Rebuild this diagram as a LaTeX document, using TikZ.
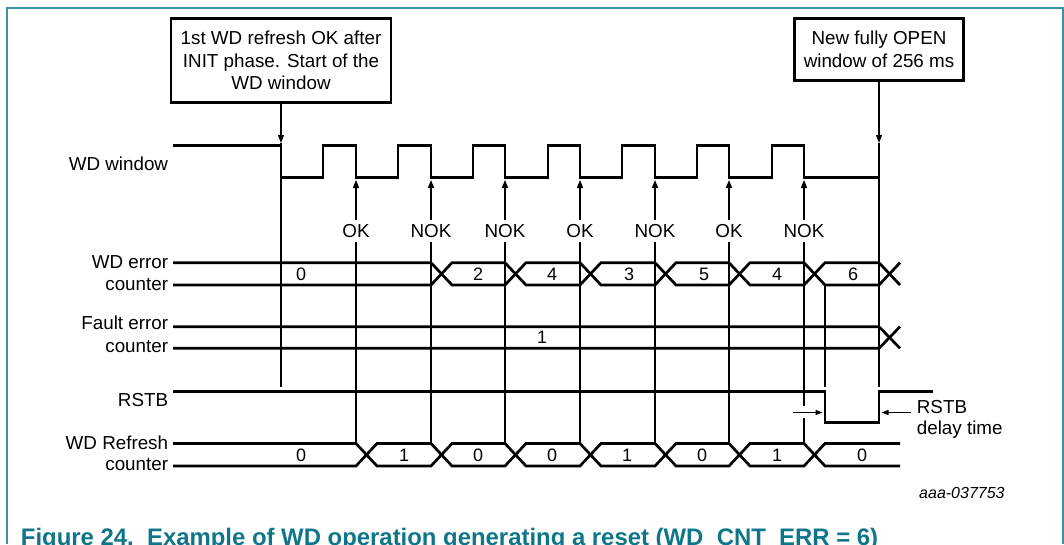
\documentclass[tikz,border=0pt]{standalone}
\usepackage{fontspec}
\setmainfont{Liberation Sans}
\usetikzlibrary{arrows.meta}
\definecolor{framecol}{RGB}{60,145,165}
\definecolor{capcol}{RGB}{15,118,138}
\begin{document}
\begin{tikzpicture}[x=1pt,y=-1pt,
  sig/.style={line width=2.7pt, line join=miter},
  thinline/.style={line width=1.2pt},
  uparrow/.style={thinline, -{Triangle[length=8pt,width=6pt]}},
  dlyarrow/.style={line width=1pt, -{Triangle[length=7pt,width=5pt]}},
  txt/.style={inner sep=0pt, font=\fontsize{18.8}{22.5}\selectfont},
  val/.style={inner sep=0pt, anchor=base, font=\fontsize{18}{22}\selectfont},
  siglbl/.style={txt, anchor=base east},
  okl/.style={inner sep=4pt, anchor=base, font=\fontsize{18.8}{22.5}\selectfont},
  notebox/.style={draw, line width=2.7pt, align=center, inner sep=0pt,
    font=\fontsize{18.8}{22.5}\selectfont}
]
\useasboundingbox (0,0) rectangle (1064,544);
% frame
\draw[framecol, line width=1.3pt] (7,544) -- (7,8) -- (1063,8) -- (1063,544);

% note boxes
\node[notebox, minimum width=220pt, minimum height=83.7pt] (box1) at (281,60.5)
  {1st WD refresh OK after\\INIT phase. Start of the\\WD window};
\node[notebox, minimum width=169.6pt, minimum height=61.7pt] (box2) at (879,49.5)
  {New fully OPEN\\window of 256 ms};
\coordinate (t1) at (281,143);
\coordinate (t2) at (879,143);
\draw[uparrow] (box1.south) -- (t1);
\draw[uparrow] (box2.south) -- (t2);
\draw[thinline] (t1) -- (281,387);
\draw[thinline] (t2) -- (879,387);

% signal labels
\node[siglbl] (l1) at (168.3,170) {WD window};
\node[siglbl] (l2a) at (168.3,268) {WD error};
\node[siglbl] (l2b) at (168.3,290) {counter};
\node[siglbl] (l3a) at (168.3,329.3) {Fault error};
\node[siglbl] (l3b) at (168.3,352.3) {counter};
\node[siglbl] (l4) at (168.3,406.7) {RSTB};
\node[siglbl] (l5a) at (168.3,449) {WD Refresh};
\node[siglbl] (l5b) at (168.3,470.7) {counter};

% WD window
\draw[sig] (173,145.7) -- (281,145.7) -- (281,177.7) -- (323,177.7) -- (323,145.7)
  -- (356,145.7) -- (356,177.7) -- (398,177.7) -- (398,145.7)
  -- (431,145.7) -- (431,177.7) -- (473,177.7) -- (473,145.7)
  -- (505,145.7) -- (505,177.7) -- (548,177.7) -- (548,145.7)
  -- (580,145.7) -- (580,177.7) -- (622,177.7) -- (622,145.7)
  -- (655,145.7) -- (655,177.7) -- (697,177.7) -- (697,145.7)
  -- (729,145.7) -- (729,177.7) -- (772,177.7) -- (772,145.7)
  -- (804,145.7) -- (804,177.7) -- (879,177.7);

% WD error counter
\draw[sig] (173,262.7) -- (431,262.7) -- (452,285) -- (505,285) -- (526,262.7)
  -- (580,262.7) -- (601,285) -- (655,285) -- (676,262.7) -- (729,262.7)
  -- (750,285) -- (804,285) -- (825,262.7) -- (879,262.7) -- (900,285);
\draw[sig] (173,285) -- (431,285) -- (452,262.7) -- (505,262.7) -- (526,285)
  -- (580,285) -- (601,262.7) -- (655,262.7) -- (676,285) -- (729,285)
  -- (750,262.7) -- (804,262.7) -- (825,285) -- (879,285) -- (900,262.7);
\node[val] (e0) at (301,280.7) {0};
\node[val] (e1) at (478,280.7) {2};
\node[val] (e2) at (552,280.7) {4};
\node[val] (e3) at (629,280.7) {3};
\node[val] (e4) at (704,280.7) {5};
\node[val] (e5) at (777,280.7) {4};
\node[val] (e6) at (853,280.7) {6};

% Fault error counter
\draw[sig] (173,326.7) -- (879,326.7) -- (900,348.3);
\draw[sig] (173,348.3) -- (879,348.3) -- (900,326.7);
\node[val] (f0) at (542,343.6) {1};

% RSTB
\draw[sig] (173,391.7) -- (825,391.7) -- (825,422.7) -- (879,422.7) -- (879,391.7) -- (933,391.7);

% WD Refresh counter
\draw[sig] (173,443.5) -- (356,443.5) -- (377,466) -- (431,466) -- (452,443.5)
  -- (505,443.5) -- (526,466) -- (580,466) -- (601,443.5) -- (655,443.5)
  -- (676,466) -- (729,466) -- (750,443.5) -- (804,443.5) -- (825,466) -- (900,466);
\draw[sig] (173,466) -- (356,466) -- (377,443.5) -- (431,443.5) -- (452,466)
  -- (505,466) -- (526,443.5) -- (580,443.5) -- (601,466) -- (655,466)
  -- (676,443.5) -- (729,443.5) -- (750,466) -- (804,466) -- (825,443.5) -- (900,443.5);
\node[val] (r0) at (301,461.5) {0};
\node[val] (r1) at (404,461.5) {1};
\node[val] (r2) at (478,461.5) {0};
\node[val] (r3) at (552,461.5) {0};
\node[val] (r4) at (627,461.5) {1};
\node[val] (r5) at (702,461.5) {0};
\node[val] (r6) at (777,461.5) {1};
\node[val] (r7) at (862,461.5) {0};

% refresh events
\foreach \x/\t/\n in {356/OK/k1, 431/NOK/k2, 505/NOK/k3, 580/OK/k4, 655/NOK/k5, 729/OK/k6} {
  \node[okl] (\n) at (\x,237.3) {\t};
  \draw[uparrow] (\n.north) -- (\x,180);
  \draw[thinline] (\n.south) -- (\x,443.5);
}
\node[okl] (k7) at (804,237.3) {NOK};
\draw[uparrow] (k7.north) -- (804,180);
\draw[thinline] (k7.south) -- (804,406);
\draw[thinline] (804,418) -- (804,443.5);
\draw[thinline] (825,285) -- (825,387);

% RSTB delay
\draw[dlyarrow] (793,412.5) -- (822.5,412.5);
\draw[dlyarrow] (911,412.5) -- (881.5,412.5);
\node[txt, anchor=base west] (d1) at (916.7,413) {RSTB};
\node[txt, anchor=base west] (d2) at (916.7,434.5) {delay time};

\node[inner sep=0pt, anchor=base west, font=\itshape\fontsize{16}{19}\selectfont] (ref) at (919,498.3) {aaa-037753};

% caption
\node[inner sep=0pt, anchor=base west, text=capcol, font=\bfseries\fontsize{23.9}{28}\selectfont] (cap)
  at (20.7,545.4) {Figure 24.\ \ Example of WD operation generating a reset (WD\_CNT\_ERR = 6)};
\end{tikzpicture}
\end{document}
